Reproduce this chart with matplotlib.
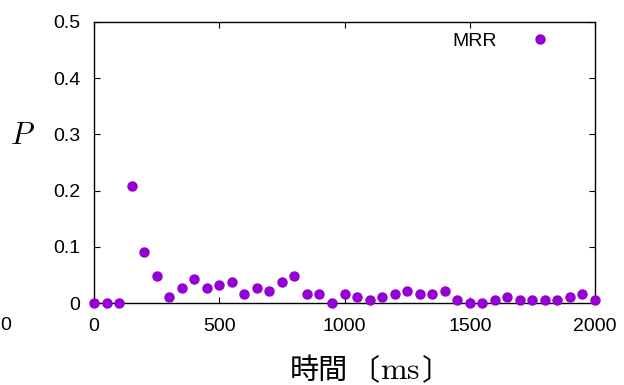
import matplotlib
matplotlib.use("Agg")
import matplotlib.pyplot as plt

W, H = 624, 385
plt.rcParams['mathtext.fontset'] = 'cm'
plt.rcParams['font.family'] = ['Liberation Sans', 'DejaVu Sans']

time_ms = [0, 50, 100, 150, 200, 250, 300, 350, 400, 450,
           500, 550, 600, 650, 700, 750, 800, 850, 900, 950,
           1000, 1050, 1100, 1150, 1200, 1250, 1300, 1350, 1400, 1450,
           1500, 1550, 1600, 1650, 1700, 1750, 1800, 1850, 1900, 1950, 2000]
p_mrr = [0.0, 0.0, 0.0, 0.2085, 0.0912, 0.0486, 0.0113, 0.0273, 0.0432, 0.0273,
         0.0326, 0.038, 0.0166, 0.0273, 0.0213, 0.038, 0.0486, 0.0166, 0.0166, 0.0,
         0.016, 0.0107, 0.0053, 0.0107, 0.016, 0.0213, 0.016, 0.016, 0.0213, 0.0053,
         0.0, 0.0, 0.0053, 0.0107, 0.0053, 0.0053, 0.0053, 0.0053, 0.0107, 0.016, 0.0053]
series_label = "MRR"
xticks = [0, 500, 1000, 1500, 2000]
yticks = [0, 0.1, 0.2, 0.3, 0.4, 0.5]
ytick_labels = ["0", "0.1", "0.2", "0.3", "0.4", "0.5"]

FS = 14

fig = plt.figure(figsize=(W / 100, H / 100), dpi=100)
ax = fig.add_axes([94 / W, 1 - 303 / H, (595 - 94) / W, (303 - 22) / H])

ax.plot(time_ms, p_mrr, linestyle='none', marker='o', markersize=6.5,
        color='#9400D3', clip_on=False, label=series_label, zorder=3)

ax.set_xlim(0, 2000)
ax.set_ylim(0, 0.5)
ax.set_xticks(xticks)
ax.set_yticks(yticks)
ax.set_yticklabels(ytick_labels)
ax.tick_params(direction='in', length=4, width=0.8, top=True, right=True,
               labelsize=FS, colors='black')
ax.tick_params(axis='x', pad=11)
ax.tick_params(axis='y', pad=10)
for s in ax.spines.values():
    s.set_linewidth(1.0)

fsp = FS * 100 / 72
leg = ax.legend(loc='upper right',
                bbox_to_anchor=((540 + fsp) / W, 1 - 32 / H),
                bbox_transform=fig.transFigure, frameon=False, markerfirst=False,
                fontsize=FS, handlelength=2.0, handletextpad=1.2,
                borderpad=0.0, borderaxespad=0.0)


def ftext(x, y, s, **kw):
    fig.text(x / W, 1 - y / H, s, **kw)


# stray tick label at far left
ftext(6, 325, "0", fontsize=FS, ha='center', va='center')
# y axis label
ftext(22, 136, r"$P$", fontsize=22, ha='center', va='center')
# x axis label pieces
cjk = ['Noto Sans CJK JP']
ftext(290, 379, "時間", fontsize=21, ha='left', va='baseline', family=cjk)
ftext(350, 379, "〔", fontsize=21, ha='left', va='baseline', family=cjk)
ftext(380, 379, r"$\mathrm{ms}$", fontsize=23, ha='left', va='baseline')
ftext(422, 379, "〕", fontsize=21, ha='left', va='baseline', family=cjk)

fig.savefig("out.png", dpi=100)
